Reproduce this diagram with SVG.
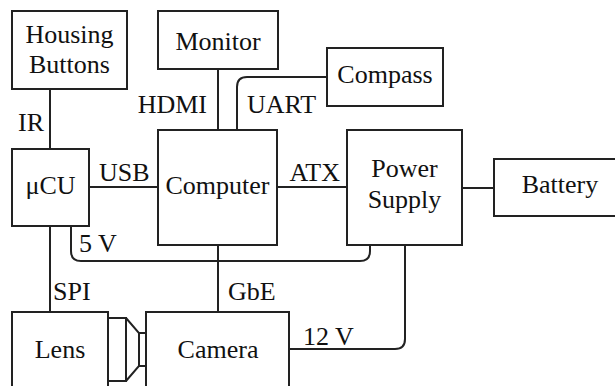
<svg xmlns="http://www.w3.org/2000/svg" width="615" height="386" viewBox="0 0 615 386">
<style>
.box{fill:#fff;stroke:#222;stroke-width:2}
.ln{fill:none;stroke:#222;stroke-width:2}
text{fill:#111;font-family:"Liberation Serif","Times New Roman",serif;font-size:26px}
.c{text-anchor:middle}
</style>
<rect width="615" height="386" fill="#fff"/>
<g id="connectors">
<path class="ln" d="M50,89V149"/>
<path class="ln" d="M218,69V130"/>
<path class="ln" d="M237,130V87Q237,77 247,77H327"/>
<path class="ln" d="M89,187H158"/>
<path class="ln" d="M277,187H347"/>
<path class="ln" d="M462,188H494"/>
<path class="ln" d="M71,226V251Q71,261 81,261H360Q370,261 370,251V245"/>
<path class="ln" d="M50,226V312"/>
<path class="ln" d="M218,245V312"/>
<path class="ln" d="M289,349H395Q405,349 405,339V245"/>
<text x="18" y="131">IR</text>
<text x="207" y="113" text-anchor="end">HDMI</text>
<text x="247" y="113">UART</text>
<text x="99" y="181">USB</text>
<text x="340" y="181" text-anchor="end">ATX</text>
<text x="79" y="252">5 V</text>
<text x="53" y="300">SPI</text>
<text x="228" y="300">GbE</text>
<text x="303" y="345">12 V</text>
</g>
<g id="housing-buttons">
<rect class="box" x="12" y="11" width="115" height="78"/>
<text class="c" x="69.5" y="43">Housing</text>
<text class="c" x="69.5" y="73">Buttons</text>
</g>
<g id="monitor">
<rect class="box" x="158" y="11" width="120" height="58"/>
<text class="c" x="218" y="50">Monitor</text>
</g>
<g id="compass">
<rect class="box" x="327" y="48" width="116" height="58"/>
<text class="c" x="385" y="83">Compass</text>
</g>
<g id="mcu">
<rect class="box" x="12" y="149" width="77" height="77"/>
<text class="c" x="50.5" y="194">μCU</text>
</g>
<g id="computer">
<rect class="box" x="158" y="130" width="119" height="115"/>
<text class="c" x="217.5" y="194">Computer</text>
</g>
<g id="power-supply">
<rect class="box" x="347" y="130" width="115" height="115"/>
<text class="c" x="404.5" y="177">Power</text>
<text class="c" x="404.5" y="208">Supply</text>
</g>
<g id="battery">
<rect class="box" x="494" y="159" width="140" height="57"/>
<text class="c" x="560" y="193">Battery</text>
</g>
<g id="lens">
<rect class="box" x="12" y="312" width="96" height="90"/>
<text class="c" x="60" y="358">Lens</text>
<path class="ln" d="M108,318H126V381H108M126,318L139,333V366L126,381M139,333H146M139,366H146"/>
</g>
<g id="camera">
<rect class="box" x="146" y="312" width="143" height="90"/>
<text class="c" x="218" y="358">Camera</text>
</g>
</svg>
